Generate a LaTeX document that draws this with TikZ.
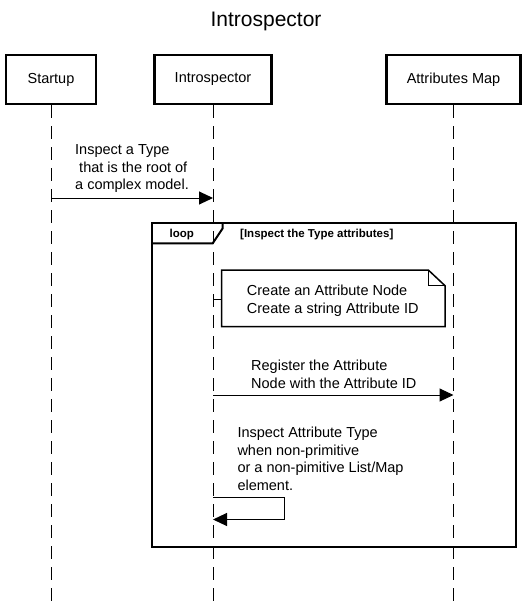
\documentclass[tikz,border=0pt]{standalone}
\usepackage{fontspec}
\setmainfont{Liberation Sans}
\usetikzlibrary{arrows.meta}
\begin{document}
\begin{tikzpicture}[x=1pt,y=-1pt,
  actor/.style={draw, line width=2.2pt, minimum height=49pt, inner sep=0pt, font=\fontsize{14.5}{17}\selectfont},
  life/.style={line width=1pt, dash pattern=on 13pt off 8pt},
  msg/.style={line width=1pt, -{Triangle[length=14pt,width=13pt]}},
  lbl/.style={font=\fontsize{14.5}{17.5}\selectfont, align=left, inner sep=0pt, anchor=base west},
  frm/.style={line width=2pt},
  notebox/.style={line width=1.5pt},
  guard/.style={font=\fontsize{11.5}{14}\selectfont\bfseries, inner sep=0pt}
]
\useasboundingbox (0,0) rectangle (532,607);
% title
\node[font=\fontsize{21}{24}\selectfont, anchor=base, inner sep=0pt] (title) at (266,27) {Introspector};
% actors
\node[actor, minimum width=90pt] (startup) at (51,79.5) {Startup};
\node[actor, minimum width=117pt] (intro) at (213,79.5) {Introspector};
\node[actor, minimum width=134pt] (attr) at (453.5,79.5) {Attributes Map};
% lifelines
\coordinate (sEnd) at (startup.south |- 0,607);
\coordinate (iEnd) at (intro.south |- 0,607);
\coordinate (aEnd) at (attr.south |- 0,607);
\draw[life] (startup.south) -- (sEnd);
\draw[life] (intro.south) -- (iEnd);
\draw[life] (attr.south) -- (aEnd);
% message 1
\coordinate (m1a) at (startup.south |- 0,198);
\coordinate (m1b) at (intro.south |- 0,198);
\draw[msg] (m1a) -- (m1b);
\node[lbl] (m1t) at (75,189.7) {Inspect a Type\\\ that is the root of\\a complex model.};
% loop frame
\coordinate (fTL) at (151.7,222.7);
\coordinate (fBR) at (516,546.7);
\draw[frm] (fTL) rectangle (fBR);
\draw[frm] (fTL |- 0,243.3) -- (212.7,243.3) -- (222.7,228.3) -- (222.7,222.7);
\node[guard, anchor=base] (looplbl) at (181.7,237.3) {loop};
\node[guard, anchor=base west] (guardlbl) at (240,237.3) {[Inspect the Type attributes]};
% note
\draw[notebox] (221.7,270) -- (428.3,270) -- (445,285.7) -- (445,326.7) -- (221.7,326.7) -- cycle;
\draw[notebox] (428.3,270) -- (428.3,285.7) -- (445,285.7);
\coordinate (nA) at (intro.south |- 0,299);
\coordinate (nB) at (221.7,299);
\draw[line width=1pt] (nA) -- (nB);
\node[lbl] (notet) at (246.7,313.3) {Create an Attribute Node\\Create a string Attribute ID};
% message 2
\coordinate (m2a) at (intro.south |- 0,395);
\coordinate (m2b) at (attr.south |- 0,395);
\draw[msg] (m2a) -- (m2b);
\node[lbl] (m2t) at (251,388.3) {Register the Attribute\\Node with the Attribute ID};
% self message
\coordinate (m3a) at (intro.south |- 0,497);
\coordinate (m3c) at (intro.south |- 0,519.5);
\draw[msg] (m3a) -- (284,497) -- (284,519.5) -- (m3c);
\node[lbl] (m3t) at (237.3,490) {Inspect Attribute Type\\when non-primitive\\or a non-pimitive List/Map\\element.};
\end{tikzpicture}
\end{document}
